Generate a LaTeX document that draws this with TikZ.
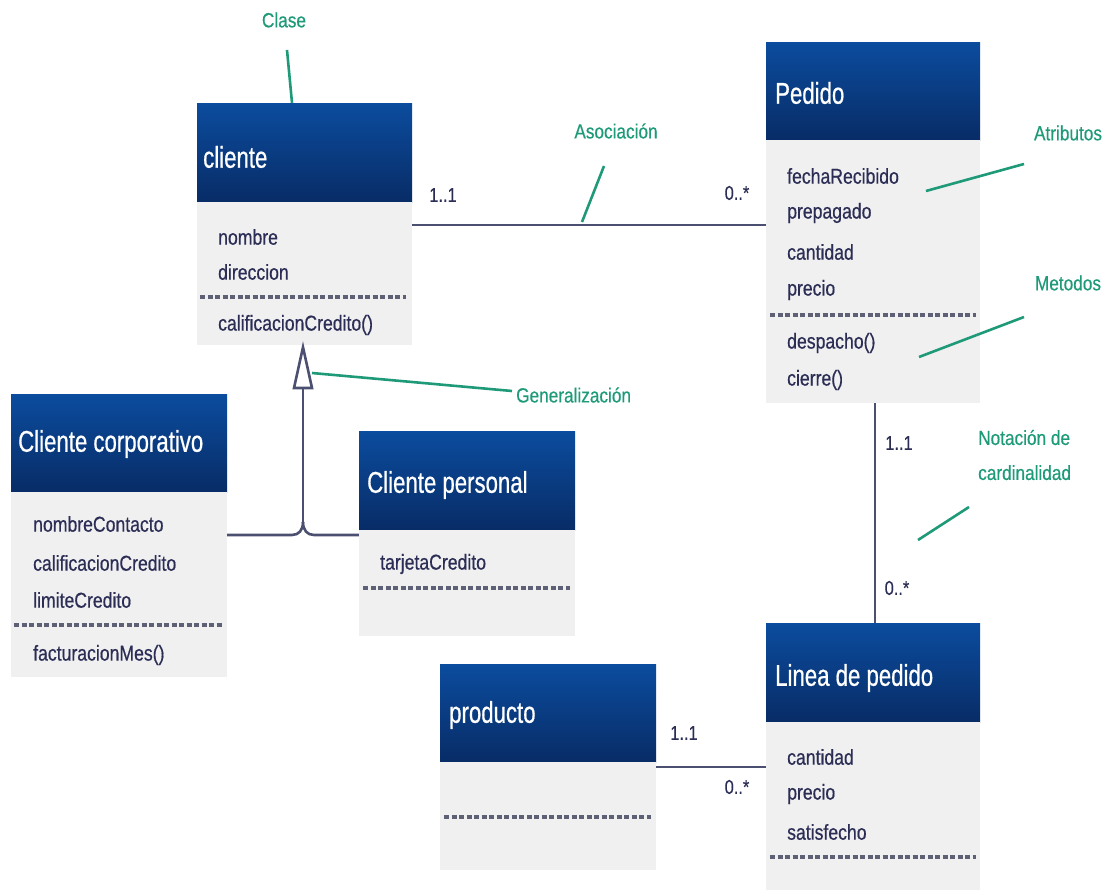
\documentclass[tikz,border=0pt]{standalone}
\usepackage{fontspec}
\setmainfont{Liberation Sans}
\newfontfamily\titlef[FakeStretch=0.74,FakeBold=0.6]{Liberation Sans}
\newfontfamily\bodyf[FakeStretch=0.82,FakeBold=0.5]{Liberation Sans}
\newfontfamily\notef[FakeStretch=0.84,FakeBold=0.4]{Liberation Sans}
\definecolor{hdrtop}{HTML}{0B4C9E}
\definecolor{hdrbot}{HTML}{082C66}
\definecolor{bodyfill}{HTML}{F0F0F0}
\definecolor{txt}{HTML}{2B2D55}
\definecolor{lnk}{HTML}{4C5070}
\definecolor{sepc}{HTML}{5E6076}
\definecolor{notec}{HTML}{1E9A78}
\tikzset{
  hdr/.style={draw=none, top color=hdrtop, bottom color=hdrbot, inner sep=0pt, minimum width=#1},
  bdy/.style={draw=none, fill=bodyfill, inner sep=0pt, minimum width=#1},
  ttl/.style={anchor=west, text=white, font=\titlef\fontsize{30}{34}\selectfont, inner sep=0pt},
  itm/.style={anchor=west, text=txt, font=\bodyf\fontsize{21.5}{25}\selectfont, inner sep=0pt},
  mult/.style={anchor=center, text=txt, font=\bodyf\fontsize{20}{24}\selectfont, inner sep=0pt},
  note/.style={text=notec, font=\notef\fontsize{20.5}{35}\selectfont, inner sep=0pt},
  sepline/.style={draw=sepc, line width=3.5pt, dash pattern=on 5pt off 2.5pt},
  assoc/.style={draw=lnk, line width=2.6pt},
  leader/.style={draw=notec, line width=2.6pt},
}
\begin{document}
\begin{tikzpicture}[x={(1pt,0pt)}, y={(0pt,-1pt)}]
\useasboundingbox (0,0) rectangle (1119,894);

% ---------- cliente ----------
\node[hdr=215pt, minimum height=99pt] (ch) at (304.5,152.5) {};
\node[bdy=215pt, minimum height=143pt] (cb) at (304.5,273.5) {};
\node[ttl] (cht) at (203,157) {cliente};
\node[itm] (c1) at (218,237) {nombre};
\node[itm] (c2) at (218,272) {direccion};
\draw[sepline] (200,297) -- (406,297);
\node[itm] (c3) at (218,325) {calificacionCredito()};

% ---------- Pedido ----------
\node[hdr=214pt, minimum height=98pt] (ph) at (873,91) {};
\node[bdy=214pt, minimum height=263pt] (pb) at (873,271.5) {};
\node[ttl] (pht) at (775,93) {Pedido};
\node[itm] (p1) at (787,176) {fechaRecibido};
\node[itm] (p2) at (787,213) {prepagado};
\node[itm] (p3) at (787,252) {cantidad};
\node[itm] (p4) at (787,290) {precio};
\draw[sepline] (770,315) -- (976,315);
\node[itm] (p5) at (787,343) {despacho()};
\node[itm] (p6) at (787,380) {cierre()};

% ---------- Cliente corporativo ----------
\node[hdr=216pt, minimum height=98pt] (kh) at (119,443) {};
\node[bdy=216pt, minimum height=185pt] (kb) at (119,584.5) {};
\node[ttl] (kht) at (18,444) {Cliente corporativo};
\node[itm] (k1) at (33,524) {nombreContacto};
\node[itm] (k2) at (33,563) {calificacionCredito};
\node[itm] (k3) at (33,600) {limiteCredito};
\draw[sepline] (14,625) -- (222,625);
\node[itm] (k4) at (33,655) {facturacionMes()};

% ---------- Cliente personal ----------
\node[hdr=216pt, minimum height=99pt] (sh) at (467,480.5) {};
\node[bdy=216pt, minimum height=106pt] (sb) at (467,583) {};
\node[ttl] (sht) at (367,485) {Cliente personal};
\node[itm] (s1) at (380,564) {tarjetaCredito};
\draw[sepline] (363,588) -- (570,588);

% ---------- producto ----------
\node[hdr=216pt, minimum height=98pt] (dh) at (548,713) {};
\node[bdy=216pt, minimum height=108pt] (db) at (548,816) {};
\node[ttl] (dht) at (449,715) {producto};
\draw[sepline] (444,817) -- (651,817);

% ---------- Linea de pedido ----------
\node[hdr=214pt, minimum height=99pt] (lh) at (873,672.5) {};
\node[bdy=214pt, minimum height=168pt] (lb) at (873,806) {};
\node[ttl] (lht) at (775,678) {Linea de pedido};
\node[itm] (l1) at (787,757) {cantidad};
\node[itm] (l2) at (787,794) {precio};
\node[itm] (l3) at (787,832) {satisfecho};
\draw[sepline] (770,857) -- (976,857);

% ---------- associations ----------
\draw[assoc] (cb.east |- 0,225) -- (pb.west |- 0,225);
\node[mult] (m1) at (443,195) {1..1};
\node[mult] (m2) at (737,193) {0..*};

\draw[assoc] (pb.south -| 875,0) -- (lh.north -| 875,0);
\node[mult] (m3) at (899,443) {1..1};
\node[mult] (m4) at (897,588) {0..*};

\draw[assoc] (db.east |- 0,767) -- (lb.west |- 0,767);
\node[mult] (m5) at (684,733) {1..1};
\node[mult] (m6) at (737,787) {0..*};

% ---------- generalization ----------
\coordinate (tip) at (cb.south -| 303,0);
\coordinate (gj) at (303,522);
\draw[assoc, line join=round] (kb.east |- 0,535) -- (292,535) .. controls (299,535) and (303,530) .. (gj);
\draw[assoc, line join=round] (sb.west |- 0,535) -- (314,535) .. controls (307,535) and (303,530) .. (gj);
\draw[assoc] (gj) -- (303,388);
\draw[assoc, fill=white, line join=miter] ([yshift=-2pt]tip) -- (294,388) -- (312,388) -- cycle;

% ---------- annotations ----------
\node[note] (nclase) at (284,20) {Clase};
\coordinate (nclaseA) at (287,50);
\draw[leader] (nclaseA) -- (ch.north -| 292,0);

\node[note] (nasoc) at (616,131) {Asociación};
\coordinate (nasocA) at (604,166);
\coordinate (nasocB) at (582,222);
\draw[leader] (nasocA) -- (nasocB);

\node[note] (natr) at (1068,133) {Atributos};
\coordinate (natrA) at (1024,164);
\coordinate (natrB) at (926,191);
\draw[leader] (natrA) -- (natrB);

\node[note] (nmet) at (1068,283) {Metodos};
\coordinate (nmetA) at (1024,317);
\coordinate (nmetB) at (919,357);
\draw[leader] (nmetA) -- (nmetB);

\node[note, anchor=west, align=left] (ncard) at (978,455) {Notación de\\cardinalidad};
\coordinate (ncardA) at (969,507);
\coordinate (ncardB) at (918,540);
\draw[leader] (ncardA) -- (ncardB);

\node[note, anchor=west] (ngen) at (516,395) {Generalización};
\coordinate (ngenB) at (312,373);
\draw[leader] (ngen.west) ++(-4,-4) -- (ngenB);
\end{tikzpicture}
\end{document}
